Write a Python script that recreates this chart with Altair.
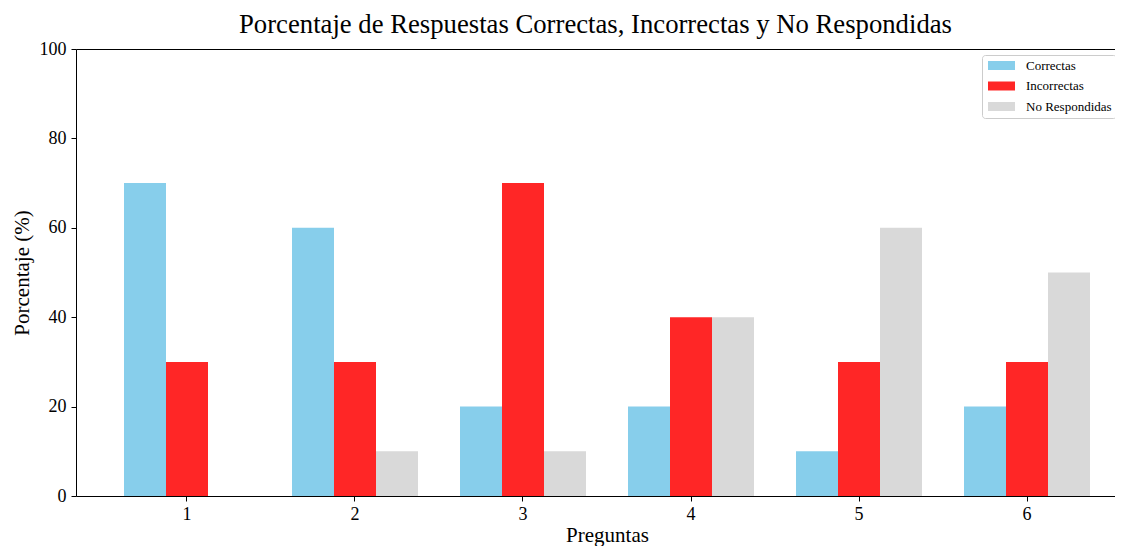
import altair as alt
import pandas as pd

preguntas = [1, 2, 3, 4, 5, 6]
tipos = ["Correctas", "Incorrectas", "No Respondidas"]
correctas = [70, 60, 20, 20, 10, 20]
incorrectas = [30, 30, 70, 40, 30, 30]
no_respondidas = [0, 10, 10, 40, 60, 50]
colores = ["#87CEEB", "#FF2626", "#D9D9D9"]
y_ticks = [0, 20, 40, 60, 80, 100]

rows = []
for serie, valores in zip(tipos, [correctas, incorrectas, no_respondidas]):
    for p, v in zip(preguntas, valores):
        rows.append({"Pregunta": p, "Tipo": serie, "Porcentaje": v})
df = pd.DataFrame(rows)

FONT = "Liberation Serif"

x_scale = alt.Scale(paddingInner=0.25, paddingOuter=0.2857, range=[0, 1062])
y_scale = alt.Scale(domain=[0, 100], nice=False)

base = alt.Chart(df)

bars = base.mark_bar().encode(
    x=alt.X("Pregunta:O", scale=x_scale,
            axis=alt.Axis(title="Preguntas", labelAngle=0, labelFontSize=18,
                          labelFont=FONT, labelColor="black", tickSize=5,
                          tickColor="black", domainColor="black", labelPadding=4,
                          titleFont=FONT, titleFontSize=21, titleFontWeight="normal",
                          titleColor="black", titleX=531, titleY=45,
                          titleBaseline="alphabetic", titleAlign="center")),
    xOffset=alt.XOffset("Tipo:N", sort=tipos, scale=alt.Scale(paddingInner=0, paddingOuter=0)),
    y=alt.Y("Porcentaje:Q", scale=y_scale,
            axis=alt.Axis(title="Porcentaje (%)", values=y_ticks, grid=False,
                          labelFontSize=18, labelFont=FONT, labelColor="black",
                          tickSize=5, tickColor="black", domainColor="black",
                          labelPadding=5, titleFont=FONT, titleFontSize=21,
                          titleFontWeight="normal", titleColor="black",
                          titleX=-48, titleY=223.5, titleBaseline="alphabetic",
                          titleAlign="center", titleAngle=-90)),
    color=alt.Color("Tipo:N", sort=tipos,
                    scale=alt.Scale(domain=tipos, range=colores),
                    legend=alt.Legend(title=None, orient="none", legendX=906, legendY=6,
                                      symbolType="M-3,-1H3V1H-3Z", symbolSize=81,
                                      symbolStrokeWidth=0, symbolOffset=9,
                                      labelOffset=18, labelFont=FONT, labelFontSize=13,
                                      labelColor="black", padding=4, rowPadding=6.5,
                                      strokeColor="#cccccc", cornerRadius=3,
                                      fillColor="white")),
)

top_spine = base.mark_bar(opacity=0).encode(
    x=alt.X("Pregunta:O", scale=x_scale,
            axis=alt.Axis(title=None, orient="top", labels=False, ticks=False,
                          domain=True, domainColor="black")),
    y=alt.Y("Porcentaje:Q", scale=y_scale, axis=None),
)

chart = alt.layer(bars, top_spine).resolve_axis(x="independent", y="independent").properties(
    width=1039,
    height=447,
    title=alt.TitleParams("Porcentaje de Respuestas Correctas, Incorrectas y No Respondidas",
                          font=FONT, fontSize=26.7, fontWeight="normal", color="black",
                          anchor="middle", baseline="alphabetic", offset=10, dy=30),
    autosize=alt.AutoSizeParams(type="none"),
    padding={"left": 68, "top": 41, "right": 0, "bottom": 50},
).configure_view(strokeWidth=0).configure_axis(domainWidth=1, tickWidth=1)

chart.save("out.html", embed_options={"renderer": "svg", "actions": False})
